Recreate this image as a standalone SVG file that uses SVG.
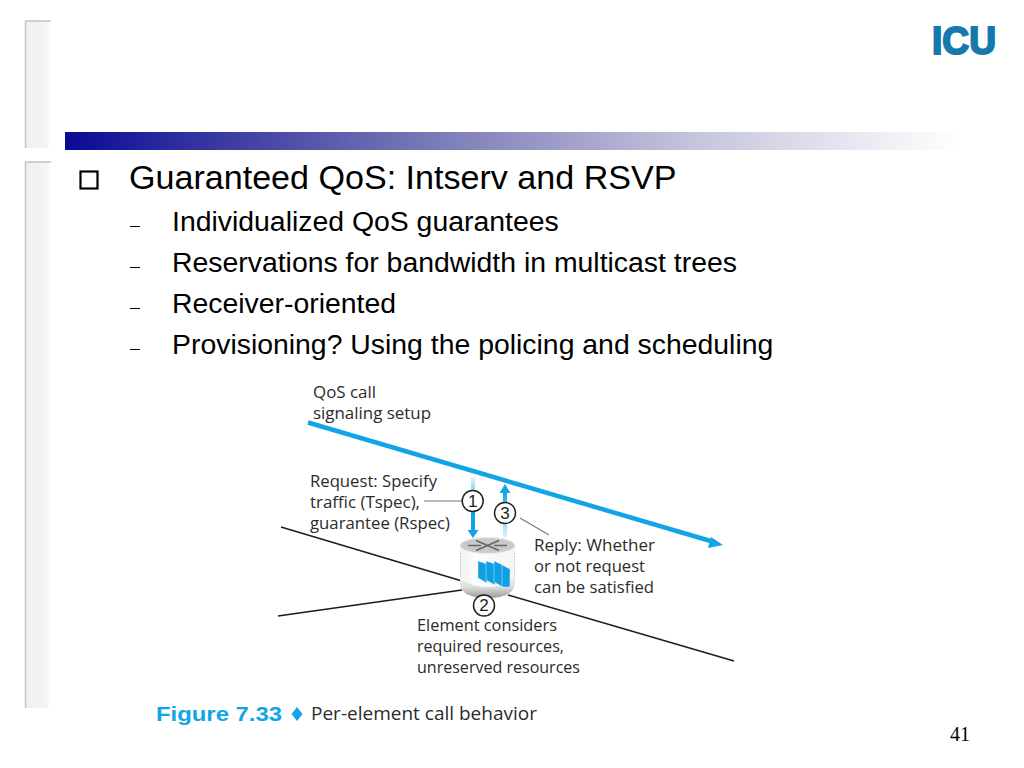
<svg xmlns="http://www.w3.org/2000/svg" width="1024" height="768" viewBox="0 0 1024 768">
<style>
.s{font-family:"Liberation Sans",Arial,sans-serif;fill:#000}
.h1{font-size:34.1px}
.h2{font-size:28.4px}
.f{font-family:"Open Sans","Noto Sans",sans-serif;font-size:16.500px;fill:#2b2b2b}
.dash{fill:none;stroke:#000;stroke-width:1.200}
.blk{stroke:#1c1c1c;stroke-width:1.600;fill:none}
.ldr{stroke:#777;stroke-width:1.100;fill:none}
.cir{fill:#fff;stroke:#222;stroke-width:1.500}
.num{font-family:"Liberation Sans",Arial,sans-serif;font-size:17px;fill:#222;text-anchor:middle}
.fin{fill:#0f9fe3;stroke:#dff3fc;stroke-width:0.500}
</style>
<defs>
<linearGradient id="bar" x1="0" x2="1" y1="0" y2="0"><stop offset="0" stop-color="#0a0a96"/><stop offset="0.35" stop-color="#6a6ab0"/><stop offset="0.7" stop-color="#c4c4dc"/><stop offset="1" stop-color="#ffffff"/></linearGradient>
<linearGradient id="side" x1="0" x2="1" y1="0" y2="0"><stop offset="0" stop-color="#f0f0f0"/><stop offset="0.8" stop-color="#f4f4f4"/><stop offset="1" stop-color="#ffffff"/></linearGradient>
<linearGradient id="body" x1="0" x2="1" y1="0" y2="0"><stop offset="0" stop-color="#f2f2f2"/><stop offset="0.3" stop-color="#fdfdfd"/><stop offset="1" stop-color="#f4f4f4"/></linearGradient>
<linearGradient id="base" x1="0" x2="0" y1="0" y2="1"><stop offset="0" stop-color="#f4f4f4"/><stop offset="0.55" stop-color="#dcdcdc"/><stop offset="1" stop-color="#9a9a9a"/></linearGradient>
<linearGradient id="up" x1="0" x2="0" y1="1" y2="0"><stop offset="0" stop-color="#12a5e6" stop-opacity="0.12"/><stop offset="1" stop-color="#12a5e6"/></linearGradient>
<linearGradient id="down" x1="0" x2="0" y1="0" y2="1"><stop offset="0" stop-color="#12a5e6" stop-opacity="0.12"/><stop offset="0.6" stop-color="#12a5e6"/></linearGradient>
</defs>
<g id="frame">
<path d="M51 21H26V148H51Z" fill="url(#side)"/><path d="M51 21H25.500V148" fill="none" stroke="#c4c4c4" stroke-width="1.500"/>
<path d="M51 162H26V708H51Z" fill="url(#side)"/><path d="M51 162H25.500V708" fill="none" stroke="#c4c4c4" stroke-width="1.500"/>
<rect x="65" y="132" width="895" height="18" fill="url(#bar)"/>
</g>
<g id="logo">
<text x="932" y="54" font-family="'Liberation Sans',sans-serif" font-weight="bold" font-size="39" fill="#1679ab" textLength="64" lengthAdjust="spacingAndGlyphs" stroke="#1679ab" stroke-width="2">ICU</text>
</g>
<g id="bullets">
<rect x="80.500" y="171.500" width="17" height="17" fill="none" stroke="#000" stroke-width="2.200"/>
<path class="dash" d="M130 226.500H140M130 267.500H140M130 308.500H140M130 349.500H140"/>
<text class="s h1" x="129" y="189">Guaranteed QoS: Intserv and RSVP</text>
<text class="s h2" x="172" y="231">Individualized QoS guarantees</text>
<text class="s h2" x="172" y="272">Reservations for bandwidth in multicast trees</text>
<text class="s h2" x="172" y="313">Receiver-oriented</text>
<text class="s h2" x="172" y="354">Provisioning? Using the policing and scheduling</text>
</g>
<g id="connectors">
<path class="blk" d="M281 527L462 581"/>
<path class="blk" d="M278 616L462 590"/>
<path class="blk" d="M508 595L734 661"/>
<path d="M308 422.500L714 542" stroke="#12a5e6" stroke-width="4.500" fill="none"/>
<path d="M723 545L708 548L711 537Z" fill="#12a5e6"/>
<rect x="471" y="477" width="4" height="54" fill="url(#down)"/>
<path d="M467.500 530H478.500L473 538Z" fill="#12a5e6"/>
<rect x="503" y="492" width="4" height="46" fill="url(#up)"/>
<path d="M499.500 493H510.500L505 484Z" fill="#12a5e6"/>
<path class="ldr" d="M424 501H462M520 518L549 535"/>
</g>
<g id="router">
<path d="M460 546V584Q462 598 487 598Q513 598 515 584V546Z" fill="url(#body)"/>
<path d="M460 574Q462 586 487 587Q513 586 515 574V584Q513 598 487 598Q462 598 460 584Z" fill="url(#base)"/>
<path d="M460.500 553V575M514.500 553V575" stroke="#bbb" stroke-width="0.900" stroke-dasharray="1.500 1.500" fill="none"/>
<ellipse cx="487.500" cy="545.500" rx="27.500" ry="8" fill="#c9c9c9" stroke="#eee"/>
<path d="M476 540.500L499 550.500M499 540.500L476 550.500M468 545.500H481M494 545.500H507" stroke="#666" stroke-width="1.600" fill="none"/>
<path class="fin" d="M478 561L487 564V583L478 578Z"/>
<path class="fin" d="M486 561L495 564V585L486 580Z"/>
<path class="fin" d="M494 561L503 565V587L494 582Z"/>
<path class="fin" d="M502 565L510 569V587L502 587Z"/>
</g>
<g id="step1"><circle class="cir" cx="472.700" cy="501" r="10.500"/><text class="num" x="472.700" y="507">1</text></g>
<g id="step3"><circle class="cir" cx="505" cy="513" r="10.500"/><text class="num" x="505" y="519">3</text></g>
<g id="step2"><circle class="cir" cx="484" cy="605.500" r="10.500"/><text class="num" x="484" y="610.500">2</text></g>
<g id="labels">
<text class="f" x="313" y="398" textLength="63" lengthAdjust="spacingAndGlyphs">QoS call</text>
<text class="f" x="313" y="419" textLength="118" lengthAdjust="spacingAndGlyphs">signaling setup</text>
<text class="f" x="310" y="487" textLength="127" lengthAdjust="spacingAndGlyphs">Request: Specify</text>
<text class="f" x="310" y="508" textLength="110" lengthAdjust="spacingAndGlyphs">traffic (Tspec),</text>
<text class="f" x="310" y="529" textLength="140" lengthAdjust="spacingAndGlyphs">guarantee (Rspec)</text>
<text class="f" x="534" y="551" textLength="121" lengthAdjust="spacingAndGlyphs">Reply: Whether</text>
<text class="f" x="534" y="572" textLength="111" lengthAdjust="spacingAndGlyphs">or not request</text>
<text class="f" x="534" y="593" textLength="120" lengthAdjust="spacingAndGlyphs">can be satisfied</text>
<text class="f" x="417" y="631" textLength="140" lengthAdjust="spacingAndGlyphs">Element considers</text>
<text class="f" x="417" y="652" textLength="147" lengthAdjust="spacingAndGlyphs">required resources,</text>
<text class="f" x="417" y="673" textLength="163" lengthAdjust="spacingAndGlyphs">unreserved resources</text>
</g>
<g id="caption">
<text x="156" y="721" font-family="'Liberation Sans',sans-serif" font-weight="bold" font-size="21" fill="#12a5e6" textLength="126" lengthAdjust="spacingAndGlyphs">Figure 7.33</text>
<path d="M297 707L302.500 714L297 721L291.500 714Z" fill="#12a5e6"/>
<text x="311" y="720" font-family="'Open Sans','Noto Sans',sans-serif" font-size="18.500" fill="#2b2b2b" textLength="226" lengthAdjust="spacingAndGlyphs">Per-element call behavior</text>
</g>
<text id="page" x="950" y="741" font-family="'Liberation Serif',serif" font-size="20" fill="#000">41</text>
</svg>
